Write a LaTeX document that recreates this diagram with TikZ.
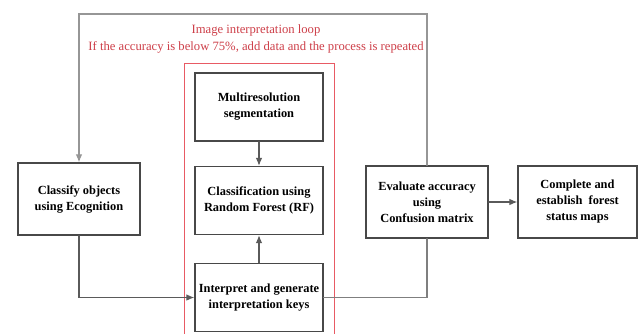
\documentclass[tikz,border=0pt]{standalone}
\usepackage{fontspec}
\setmainfont{Liberation Serif}
\usetikzlibrary{arrows.meta}
\definecolor{boxline}{RGB}{72,72,72}
\definecolor{loopline}{RGB}{150,150,150}
\definecolor{loopred}{RGB}{205,62,72}
\definecolor{framered}{RGB}{232,90,100}

\begin{document}
\begin{tikzpicture}[x=0.75pt, y=-0.75pt, line cap=round, >={Latex[length=6pt,width=5pt]},
  every node/.style={font=\fontsize{9.3}{12}\selectfont\bfseries, align=center},
  stage/.style={draw=boxline, line width=1.1pt, minimum width=96pt, minimum height=51pt, inner sep=1pt},
  side/.style={draw=boxline, line width=1.1pt, minimum width=91.5pt, minimum height=54pt, inner sep=1pt},
  flow/.style={draw=boxline!90, line width=0.8pt},
  back/.style={draw=loopline, line width=0.8pt}]
\useasboundingbox (0,0) rectangle (639,333);

% ---------- the red interpretation frame and its caption ----------
\draw[framered, line width=0.7pt] (184,336) |- (334,63) -- (334,336);
\node[text=loopred, font=\fontsize{9.5}{12.75}\selectfont] (cap) at (256,38.5)
  {Image interpretation loop\\If the accuracy is below 75\%, add data and the process is repeated};

% ---------- boxes ----------
\node[stage] (ms) at (259,107) {Multiresolution\\segmentation};
\node[stage] (rf) at (259,200.5) {Classification using\\Random Forest (RF)};
\node[stage] (key) at (259,297.5) {Interpret and generate\\interpretation keys};
\node[side] (cls) at (79,199) {Classify objects\\using Ecognition};
\node[side] (acc) at (427,202) {Evaluate accuracy\\using\\Confusion matrix};
\node[side, minimum width=89.25pt] (map) at (577.5,202) {Complete and\\establish~ forest\\status maps};

% ---------- connectors ----------
\draw[flow, ->] (ms) -- (rf);
\draw[flow, ->] (key) -- (rf);
\draw[flow, ->] (cls.south) |- (key.west);
\draw[back, draw=boxline!70] (key.east) -| (acc.south);
\draw[flow, ->] (acc) -- (map);
% loop back to the start
\coordinate (tr) at (427,14);
\coordinate (tl) at (79,14);
\draw[back, ->] (acc.north) -- (tr) -- (tl) -- (cls.north);

\end{tikzpicture}
\end{document}
